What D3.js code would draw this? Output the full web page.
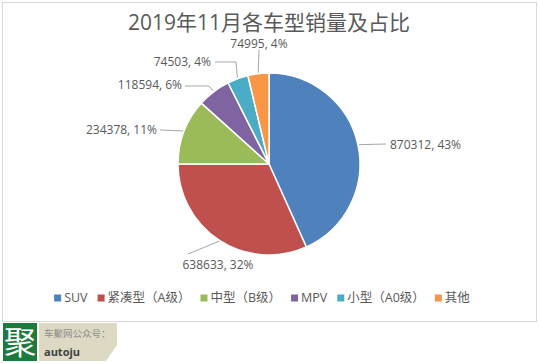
<!DOCTYPE html>
<html><head><meta charset="utf-8">
<script src="https://cdn.jsdelivr.net/npm/d3@7"></script>
<style>
html,body{margin:0;padding:0;background:#fff;}
svg{display:block;}
</style></head>
<body>
<svg id="c" width="539" height="363"></svg>
<script>
const titleText = "2019年11月各车型销量及占比";
const categories = ["SUV", "紧凑型（A级）", "中型（B级）", "MPV", "小型（A0级）", "其他"];
const values = [870312, 638633, 234378, 118594, 74503, 74995];
const percents = ["43%", "32%", "11%", "6%", "4%", "4%"];
const colors = ["#4f81bd", "#c0504d", "#9bbb59", "#8064a2", "#4bacc6", "#f79646"];

// label layout: leader path points and text placement (style, not data)
const labelLayout = [
  {pts: [[386,144]], tx: 390, ty: 145, anchor: "start"},
  {pts: [[188,254]], tx: 218, ty: 265, anchor: "middle"},
  {pts: [[160,130]], tx: 157, ty: 130, anchor: "end"},
  {pts: [[209,86],[185,86]], tx: 182, ty: 85, anchor: "end"},
  {pts: [[236,62],[215,62]], tx: 211, ty: 62, anchor: "end"},
  {pts: [[259,50]], tx: 259, ty: 44, anchor: "middle"}
];

const svg = d3.select("#c");
const font = "'Open Sans','Noto Sans CJK SC',sans-serif";

// chart frame
svg.append("rect").attr("x", 2.5).attr("y", 2.5).attr("width", 534).attr("height", 319)
  .attr("fill", "#fff").attr("stroke", "#d9d9d9").attr("stroke-width", 1);

// title
svg.append("text").attr("x", 269).attr("y", 22).attr("dy", "0.36em").attr("text-anchor", "middle")
  .attr("font-family", font).attr("font-size", 21).attr("fill", "#595959").text(titleText);

const cx = 269, cy = 164, r = 91;
const pie = d3.pie().sort(null).value(d => d)(values);
const arc = d3.arc().innerRadius(0).outerRadius(r);
const g = svg.append("g").attr("transform", `translate(${cx},${cy})`);
g.selectAll("path").data(pie).join("path")
  .attr("d", arc).attr("fill", (d, i) => colors[i])
  .attr("stroke", "#fff").attr("stroke-width", 1.5).attr("stroke-linejoin", "round");

// leader lines + labels
pie.forEach((d, i) => {
  const a = (d.startAngle + d.endAngle) / 2;
  const p0 = [cx + (r + 1) * Math.sin(a), cy - (r + 1) * Math.cos(a)];
  const L = labelLayout[i];
  const pts = [p0, ...L.pts];
  svg.append("path").attr("d", d3.line()(pts)).attr("fill", "none")
    .attr("stroke", "#a6a6a6").attr("stroke-width", 1);
  svg.append("text").attr("x", L.tx).attr("y", L.ty).attr("dy", "0.35em")
    .attr("text-anchor", L.anchor).attr("font-family", font).attr("font-size", 12)
    .attr("fill", "#595959").text(d3.format("d")(values[i]) + ", " + percents[i]);
});

// legend
const lg = svg.append("g");
let x = 0;
categories.forEach((c, i) => {
  const it = lg.append("g");
  it.append("rect").attr("x", x).attr("y", 294.5).attr("width", 7).attr("height", 7).attr("fill", colors[i]);
  const t = it.append("text").attr("x", x + 10).attr("y", 298).attr("dy", "0.35em")
    .attr("font-family", font).attr("font-size", 12.5).attr("fill", "#595959").text(c);
  x += 10 + t.node().getComputedTextLength() + 10;
});
const totalW = x - 10;
lg.attr("transform", `translate(${262 - totalW / 2},0)`);

// logo
svg.append("rect").attr("x", 3).attr("y", 323).attr("width", 34).attr("height", 38).attr("fill", "#1e7a3c");
svg.append("text").attr("x", 20).attr("y", 342).attr("dy", "0.36em").attr("text-anchor", "middle")
  .attr("font-family", font).attr("font-size", 32).attr("fill", "#fff").text("聚");
svg.append("path").attr("d", "M39,323 L117,323 L117,345 L106,361 L39,361 Z").attr("fill", "#ddd9c3");
svg.append("text").attr("x", 44).attr("y", 334).attr("dy", "0.35em")
  .attr("font-family", font).attr("font-size", 9.5).attr("fill", "#8c8c8c").text("车聚网公众号：");
svg.append("text").attr("x", 44).attr("y", 352).attr("dy", "0.35em")
  .attr("font-family", font).attr("font-size", 11).attr("font-weight", "bold").attr("fill", "#404040").text("autoju");
</script>
</body></html>
